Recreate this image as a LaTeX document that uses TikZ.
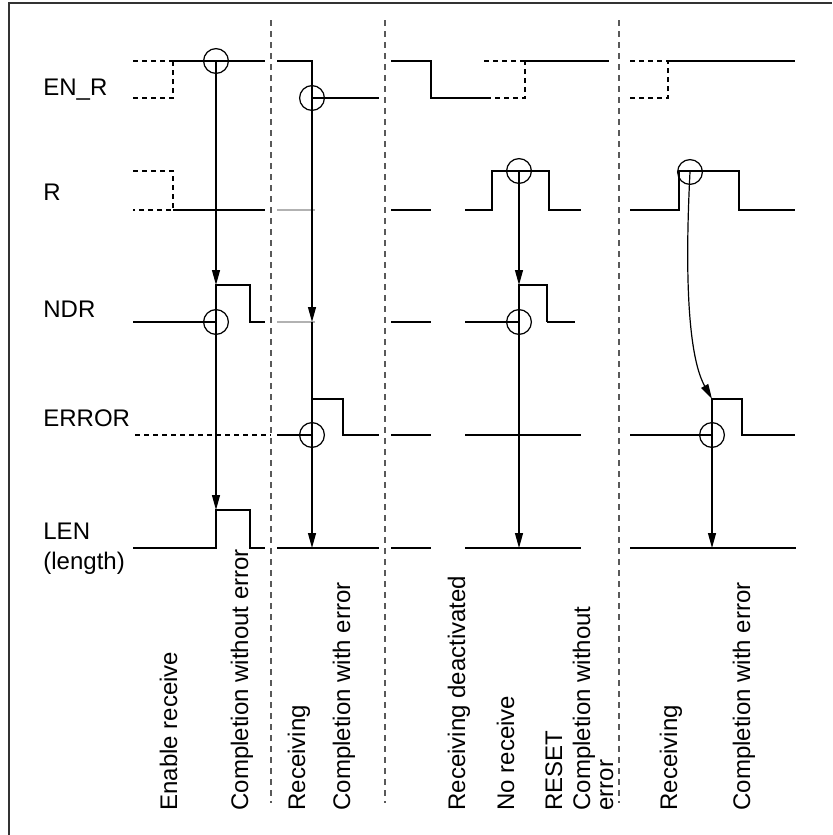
\documentclass[tikz,border=0pt]{standalone}
\usepackage{fontspec}
\setmainfont{Liberation Sans}
\usetikzlibrary{arrows.meta}

\begin{document}
\begin{tikzpicture}[
    x=0.5pt,y=-0.5pt,
    >={Triangle[length=7.5pt,width=4pt]},
    sig/.style={line width=0.6pt},
    prev/.style={line width=0.6pt,dash pattern=on 2.5pt off 2pt},
    faint/.style={line width=0.6pt,gray!60},
    divider/.style={line width=0.6pt,black!65,dash pattern=on 3pt off 2.5pt},
    evt/.style={circle,draw,line width=0.6pt,minimum size=12.4pt,inner sep=0pt},
    arr/.style={->,line width=0.6pt},
    lbl/.style={anchor=base west,inner sep=0pt,align=left,
                font=\fontsize{12}{15}\selectfont},
    note/.style={rotate=90,anchor=base west,inner sep=0pt,align=left,
                 font=\fontsize{12}{11.5}\selectfont}
  ]
  \useasboundingbox (0,0) rectangle (832,835);
  \draw[line width=0.8pt,black!80] (9,835) -- (9,3) -- (832,3);
  %% Phase separators
  \foreach \x in {271,385,619}
    \draw[divider] (\x,20) -- (\x,803);
  %% Signal names
  \node[lbl] (lENR) at (43,95)  {EN\_R};
  \node[lbl] (lR)   at (43,200) {R};
  \node[lbl] (lNDR) at (43,317) {NDR};
  \node[lbl] (lERR) at (43,426) {ERROR};
  \node[lbl] (lLEN) at (43,569) {LEN\\(length)};
  %% EN_R
  \draw[prev] (133,61) -- (173,61) (133,98) -- (173,98) -- (173,61);
  \draw[sig] (173,61) -- (265,61);
  \draw[sig] (277,61) -- (312,61) -- (312,98) -- (379,98);
  \draw[sig] (391,61) -- (431,61) -- (431,98) -- (486,98);
  \draw[prev] (484,61) -- (525,61) (486,98) -- (525,98) -- (525,61);
  \draw[sig] (525,61) -- (609,61);
  \draw[prev] (630,61) -- (668,61) (630,98) -- (668,98) -- (668,61);
  \draw[sig] (668,61) -- (795,61);
  %% R
  \draw[prev] (133,171) -- (173,171) -- (173,210) -- (133,210);
  \draw[sig] (173,210) -- (265,210);
  \draw[faint] (277,210) -- (315,210);
  \draw[sig] (391,210) -- (431,210);
  \draw[sig] (465,210) -- (492,210) -- (492,171) -- (549,171) -- (549,210) -- (581,210);
  \draw[sig] (630,210) -- (679,210) -- (679,171) -- (739,171) -- (739,210) -- (795,210);
  %% NDR
  \draw[sig] (133,322) -- (216,322) -- (216,285) -- (250,285) -- (250,322) -- (265,322);
  \draw[faint] (277,322) -- (315,322);
  \draw[sig] (391,322) -- (431,322);
  \draw[sig] (465,322) -- (519,322) -- (519,285) -- (547,285) -- (547,322);
  \draw[line width=1.1pt] (547,322) -- (575,322);
  %% ERROR
  \draw[prev] (135,435) -- (271,435);
  \draw[sig] (277,435) -- (312,435) -- (312,399) -- (343,399) -- (343,435) -- (379,435);
  \draw[sig] (391,435) -- (431,435);
  \draw[sig] (465,435) -- (581,435);
  \draw[sig] (630,435) -- (712,435) -- (712,399) -- (742,399) -- (742,435) -- (795,435);
  %% LEN
  \draw[sig] (133,548) -- (216,548) -- (216,510) -- (250,510) -- (250,548) -- (265,548);
  \draw[sig] (277,548) -- (379,548);
  \draw[sig] (391,548) -- (431,548);
  \draw[sig] (465,548) -- (581,548);
  \draw[sig] (630,548) -- (796,548);
  %% Events
  \node[evt] (c1) at (216,61)  {};
  \node[evt] (c2) at (216,322) {};
  \node[evt] (c3) at (312,98)  {};
  \node[evt] (c4) at (312,435) {};
  \node[evt] (c5) at (519,171) {};
  \node[evt] (c6) at (519,322) {};
  \node[evt] (c7) at (690,172) {};
  \node[evt] (c8) at (712,435) {};
  \coordinate (n1) at (216,285); \coordinate (l1) at (216,510);
  \coordinate (n2) at (312,322); \coordinate (l2) at (312,548);
  \coordinate (n3) at (519,285); \coordinate (l3) at (519,548);
  \coordinate (e4) at (712,399); \coordinate (l4) at (712,548);
  %% Causes
  \draw[arr] (c1.center) -- (n1);
  \draw[arr] (n1) -- (l1);
  \draw[arr] (c3.center) -- (n2);
  \draw[arr] (n2) -- (l2);
  \draw[arr] (c5.center) -- (n3);
  \draw[arr] (n3) -- (l3);
  \draw[arr] (c7.center) .. controls (684,290) and (690,360) .. (e4);
  \draw[arr] (e4) -- (l4);
  %% Phase descriptions
  \node[note] (t1)  at (177,811) {Enable receive};
  \node[note] (t2)  at (248,811) {Completion without error};
  \node[note] (t3)  at (305,811) {Receiving};
  \node[note] (t4)  at (350,811) {Completion with error};
  \node[note] (t5)  at (465,811) {Receiving deactivated};
  \node[note] (t6)  at (514,811) {No receive};
  \node[note] (t7)  at (562,811) {RESET};
  \node[note] (t8)  at (613,811) {Completion without\\error};
  \node[note] (t9)  at (677,811) {Receiving};
  \node[note] (t10) at (750,811) {Completion with error};
\end{tikzpicture}
\end{document}
